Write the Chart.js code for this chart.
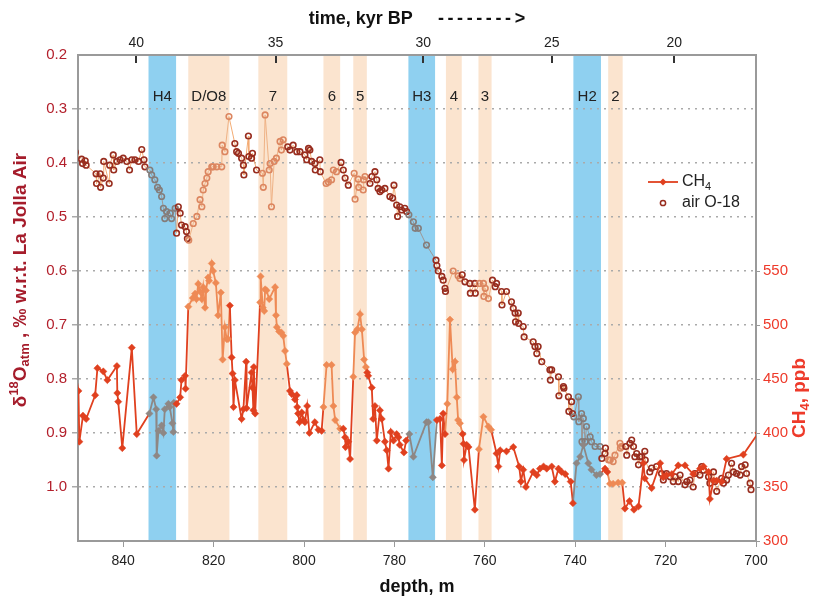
<!DOCTYPE html>
<html>
<head>
<meta charset="utf-8">
<script src="https://cdn.jsdelivr.net/npm/chart.js@4.4.1/dist/chart.umd.min.js"></script>
<style>
  html, body { margin: 0; padding: 0; background: #fff; }
  #wrap { width: 814px; height: 596px; }
</style>
</head>
<body>
<div id="wrap"><canvas id="chart" width="814" height="596"></canvas></div>
<script>
// CH4 samples: [depth m, ppb]
const ch4Samples = [
  [851.5, 480], [849.9, 439], [849.7, 392], [848.9, 416], [848.2, 413], [846.2, 435], [845.7, 460], [844.4, 457],
  [843.5, 449], [841.4, 462], [841.3, 437], [841.1, 429], [840.2, 386], [838.1, 479], [837.0, 399],
  [834.2, 418], [833.3, 433], [832.7, 422], [832.6, 379], [832.2, 402], [831.5, 407], [831.1, 400], [830.8, 422],
  [830.0, 427], [829.7, 424], [829.1, 409], [828.9, 401], [828.8, 428],
  [828.2, 427], [827.4, 433], [827.1, 449], [826.3, 453], [826.2, 441], [825.6, 517],
  [824.6, 525], [824.1, 529], [823.8, 524], [823.4, 538], [823.0, 531], [822.6, 524], [822.3, 535], [821.9, 516],
  [821.7, 532], [821.2, 544], [821.0, 541], [820.4, 557], [820.1, 550], [819.5, 539], [819.0, 509], [818.4, 530],
  [818.0, 468], [817.5, 498], [817.1, 487], [816.8, 487], [816.4, 518],
  [816.0, 470], [815.8, 455], [815.6, 424], [815.3, 449], [813.8, 413], [813.4, 422], [812.8, 466], [812.7, 423],
  [811.6, 456], [811.4, 442], [811.2, 421], [811.1, 461], [810.8, 418],
  [809.7, 521], [809.6, 545], [809.1, 516], [808.8, 513], [808.6, 533], [808.3, 532], [807.7, 524], [806.4, 535],
  [806.2, 509], [806.0, 498], [805.5, 494], [805.0, 493], [804.6, 490], [804.2, 476], [803.8, 464],
  [803.1, 439], [802.7, 436], [802.0, 431], [801.6, 435], [801.5, 424], [801.3, 418], [801.0, 410], [800.5, 419],
  [800.1, 412], [799.8, 410], [799.3, 425], [798.8, 400], [797.6, 410], [796.8, 403], [796.1, 402],
  [795.7, 424], [795.0, 463], [793.9, 463], [793.5, 425], [793.1, 412],
  [792.0, 404], [791.3, 404], [790.9, 396], [790.8, 387], [790.2, 392], [789.8, 376],
  [789.1, 452], [788.7, 493], [788.2, 496], [787.6, 510], [787.2, 496], [786.7, 468], [786.3, 461],
  [786.0, 456], [785.8, 453], [785.0, 442], [784.7, 413], [784.3, 425], [783.9, 393], [783.2, 421], [782.8, 413],
  [782.1, 392], [781.7, 384], [781.3, 367], [780.8, 401], [780.2, 393], [779.5, 399], [779.1, 396], [778.8, 389],
  [777.9, 382], [777.4, 393],
  [776.7, 399], [775.8, 378], [772.9, 410], [772.5, 410], [771.5, 359],
  [770.6, 412], [769.9, 413], [769.5, 370], [769.2, 418], [768.8, 399],
  [768.3, 427], [767.7, 505], [767.1, 459], [766.6, 466], [766.2, 433], [765.9, 412], [765.5, 409],
  [764.9, 399], [764.7, 390], [764.6, 375], [764.0, 389], [763.6, 387], [762.2, 329],
  [761.3, 385], [760.3, 415], [759.2, 406], [758.6, 403],
  [757.4, 381], [757.0, 369], [756.6, 384], [755.2, 383], [753.7, 387], [752.4, 369], [752.0, 355], [751.5, 366],
  [750.9, 350], [749.3, 364], [748.5, 361], [747.8, 367], [747.0, 369], [746.3, 367], [745.2, 369], [744.5, 355],
  [743.7, 367], [743.0, 364], [742.2, 362], [741.0, 355], [740.5, 335],
  [739.7, 372], [738.9, 378], [738.2, 389], [737.1, 372], [736.4, 366], [735.3, 361], [734.5, 362],
  [733.4, 367], [732.9, 364],
  [732.3, 353], [731.6, 353], [730.5, 354], [729.6, 354],
  [729.0, 330], [728.0, 337], [727.0, 329], [726.0, 332], [724.9, 372], [724.6, 358], [723.1, 349], [721.2, 372],
  [720.5, 359], [719.8, 361], [718.6, 362], [717.2, 370], [715.7, 370], [713.9, 362], [712.4, 367], [711.6, 369],
  [710.5, 364], [710.2, 339], [709.4, 356], [708.7, 356], [707.6, 355], [706.5, 376], [702.8, 380], [699.5, 400]
];

// air O-18 samples: [depth m, permil]
const o18Samples = [
  [850.6, 0.380], [849.2, 0.393], [849.0, 0.401], [848.4, 0.396], [848.2, 0.404], [846.0, 0.420], [845.9, 0.438],
  [845.1, 0.420], [845.0, 0.445], [844.4, 0.428], [844.3, 0.397], [843.1, 0.438], [843.0, 0.404], [842.2, 0.385],
  [842.1, 0.413], [841.4, 0.397], [840.7, 0.394], [840.0, 0.391], [839.2, 0.397], [838.6, 0.413], [838.1, 0.394],
  [837.4, 0.394], [836.6, 0.397], [835.9, 0.375], [835.4, 0.394], [835.2, 0.407],
  [834.1, 0.413], [833.7, 0.422], [833.0, 0.431], [832.4, 0.445], [832.0, 0.450], [831.5, 0.462], [831.1, 0.484],
  [830.8, 0.503], [830.4, 0.490], [829.6, 0.493], [829.3, 0.503], [828.5, 0.484],
  [828.2, 0.530], [827.8, 0.481], [827.4, 0.493], [827.1, 0.515], [826.3, 0.518], [826.0, 0.527], [825.8, 0.540],
  [825.5, 0.543], [824.5, 0.512], [823.7, 0.499], [823.0, 0.468], [822.6, 0.481], [822.3, 0.450], [821.9, 0.438],
  [821.5, 0.428], [821.2, 0.416], [820.4, 0.407], [820.1, 0.407], [819.3, 0.407], [818.2, 0.407], [818.1, 0.367],
  [817.5, 0.379], [816.6, 0.314],
  [815.3, 0.364], [814.9, 0.379], [814.5, 0.382], [813.8, 0.391], [813.4, 0.404], [813.3, 0.422], [812.3, 0.350],
  [812.2, 0.388], [811.6, 0.391], [811.4, 0.382], [810.5, 0.413],
  [809.2, 0.419], [809.0, 0.445], [808.6, 0.311], [807.7, 0.413], [807.5, 0.401], [807.2, 0.481], [806.6, 0.397],
  [806.1, 0.391], [805.3, 0.360], [805.0, 0.376], [804.6, 0.357],
  [803.6, 0.370], [803.1, 0.376], [802.4, 0.367], [801.6, 0.379], [800.9, 0.379], [799.8, 0.385], [799.4, 0.394],
  [799.0, 0.373], [798.7, 0.376], [798.3, 0.397], [797.6, 0.401], [797.5, 0.413], [796.5, 0.394], [796.4, 0.416],
  [795.1, 0.438], [794.6, 0.435], [793.9, 0.431], [793.5, 0.413], [792.8, 0.416],
  [791.8, 0.399], [791.3, 0.413], [790.9, 0.428], [790.2, 0.441],
  [788.9, 0.419], [788.7, 0.467], [788.0, 0.430], [787.9, 0.445], [786.9, 0.450], [786.8, 0.431], [786.5, 0.425],
  [785.4, 0.438], [785.0, 0.425], [784.3, 0.416], [783.9, 0.431], [783.6, 0.447], [783.2, 0.453], [782.8, 0.450],
  [782.1, 0.447], [781.0, 0.462], [780.4, 0.465], [780.1, 0.441], [779.5, 0.478], [779.3, 0.499], [778.8, 0.481],
  [778.4, 0.487], [777.7, 0.484], [777.3, 0.490],
  [776.8, 0.496], [775.8, 0.509], [775.4, 0.521], [774.7, 0.521], [772.9, 0.552],
  [770.8, 0.580], [770.6, 0.590], [770.3, 0.600], [769.5, 0.610], [769.2, 0.617], [768.8, 0.632], [768.7, 0.638],
  [767.0, 0.600], [765.9, 0.609], [765.5, 0.614],
  [765.0, 0.607], [764.4, 0.620], [763.3, 0.623], [763.2, 0.641], [762.2, 0.623], [762.1, 0.641],
  [761.2, 0.623], [760.3, 0.623], [760.2, 0.647], [759.9, 0.632], [759.2, 0.651],
  [758.3, 0.617], [757.7, 0.629], [757.4, 0.623], [756.3, 0.638], [756.2, 0.663], [755.2, 0.638], [754.1, 0.657],
  [753.7, 0.669], [753.3, 0.678], [753.2, 0.694], [752.6, 0.678], [752.5, 0.697], [751.5, 0.703], [751.3, 0.722],
  [749.3, 0.731], [748.9, 0.740], [748.5, 0.753], [748.2, 0.740], [747.4, 0.768], [745.6, 0.783], [745.5, 0.802],
  [745.2, 0.783], [743.7, 0.796], [743.6, 0.831], [742.6, 0.814], [742.5, 0.817], [741.5, 0.833], [741.4, 0.860],
  [740.8, 0.842], [740.6, 0.864],
  [740.3, 0.870], [739.3, 0.833], [739.2, 0.879], [738.6, 0.864], [738.5, 0.916], [738.2, 0.873], [737.8, 0.916],
  [737.5, 0.888], [736.7, 0.907], [736.4, 0.916], [735.6, 0.925], [734.5, 0.925],
  [734.1, 0.947], [733.4, 0.938], [733.3, 0.928], [732.6, 0.950], [732.3, 0.950], [731.6, 0.953], [731.2, 0.941],
  [730.1, 0.919], [730.0, 0.928], [729.7, 0.925],
  [728.8, 0.925], [728.6, 0.941], [727.9, 0.919], [727.5, 0.913], [727.1, 0.925], [726.8, 0.944], [726.4, 0.938],
  [726.0, 0.959], [725.7, 0.944], [725.3, 0.944], [724.6, 0.934], [724.5, 0.950], [723.5, 0.972], [723.1, 0.965],
  [722.0, 0.962], [720.9, 0.975], [720.5, 0.987], [719.8, 0.975], [719.0, 0.981], [718.3, 0.990], [717.9, 0.981],
  [717.2, 0.990], [716.8, 0.978], [715.7, 0.996], [715.3, 0.990], [714.6, 0.987], [713.9, 1.000], [713.5, 0.975],
  [712.4, 0.978], [712.0, 0.962], [711.6, 0.969], [710.5, 0.981], [710.2, 0.993], [709.4, 0.972], [709.1, 0.990],
  [708.7, 1.008], [707.6, 0.984], [707.2, 0.993], [706.5, 0.987], [706.1, 0.978], [705.4, 0.956], [705.0, 0.972],
  [704.3, 0.975], [703.5, 0.978], [703.2, 0.962], [702.4, 0.959], [702.1, 0.975], [701.3, 0.993], [701.1, 1.005]
];

// climate events (depth range, m)
const eventTop = [834.4, 825.6, 810.1, 795.7, 789.1, 776.9, 768.6, 761.4, 740.4, 732.7];
const eventBottom = [828.3, 816.5, 803.7, 792.0, 786.1, 771.0, 765.1, 758.5, 734.3, 729.5];
const eventNames = ['H4', 'D/O8', '7', '6', '5', 'H3', '4', '3', 'H2', '2'];
const eventKind = ['H', 'DO', 'DO', 'DO', 'DO', 'H', 'DO', 'DO', 'H', 'DO'];

// axis ticks
const depthTicks = [840, 820, 800, 780, 760, 740, 720, 700];
const ageTickDepths = [837.1, 806.3, 773.6, 745.2, 718.1];
const ageTickLabels = ['40', '35', '30', '25', '20'];
const o18Ticks = [0.2, 0.3, 0.4, 0.5, 0.6, 0.7, 0.8, 0.9, 1.0];
const ch4Ticks = [300, 350, 400, 450, 500, 550];

// kleuren
const BLUE_BAND = '#8fd0f0';
const ORANGE_BAND = '#fbe4cf';
const CH4_RED = '#e0401f';
const CH4_ORANGE = '#ee8a55';
const CH4_GRAY = '#8e8784';
const O18_BROWN = '#982d1f';
const O18_ORANGE = '#dc8660';
const O18_GRAY = '#847c7a';
const LEFT_RED = '#b3202c';
const RIGHT_RED = '#ee3a2a';

function eventAt(depth) {
    for (let i = 0; i < eventTop.length; i++) {
        if (depth <= eventTop[i] && depth >= eventBottom[i]) return eventKind[i];
    }
    return null;
}

function pick(depth, normal, orange, gray) {
    const k = eventAt(depth);
    if (k === 'H') return gray;
    if (k === 'DO') return orange;
    return normal;
}

function pointColor(ctx, normal, orange, gray) {
    if (!ctx.raw) return normal;
    return pick(ctx.raw.x, normal, orange, gray);
}

// tekent banden, labels, tijd-ticks, legenda en y-titels
const overlay = {
    id: 'overlay',
    beforeDraw(chart) {
        const { ctx, chartArea: a, scales: { x } } = chart;
        ctx.save();
        eventTop.forEach((top, i) => {
            const x1 = x.getPixelForValue(top);
            const x2 = x.getPixelForValue(eventBottom[i]);
            ctx.fillStyle = eventKind[i] === 'H' ? BLUE_BAND : ORANGE_BAND;
            ctx.fillRect(Math.min(x1, x2), a.top, Math.abs(x2 - x1), a.bottom - a.top);
        });
        ctx.restore();
    },
    afterDraw(chart) {
        const { ctx, chartArea: a, scales: { x, x2 } } = chart;
        ctx.save();

        // namen van de events
        ctx.font = '15px "Liberation Sans", Arial, sans-serif';
        ctx.fillStyle = '#222';
        ctx.textAlign = 'center';
        ctx.textBaseline = 'middle';
        eventNames.forEach((name, i) => {
            const cx = x.getPixelForValue((eventTop[i] + eventBottom[i]) / 2);
            ctx.fillText(name, cx, a.top + 42);
        });

        // korte tickjes van de tijd-as
        ctx.strokeStyle = '#333';
        ctx.lineWidth = 2;
        ageTickDepths.forEach(d => {
            const px = Math.round(x2.getPixelForValue(d));
            ctx.beginPath();
            ctx.moveTo(px, a.top + 1);
            ctx.lineTo(px, a.top + 8);
            ctx.stroke();
        });

        // legenda
        const lx = 663, ly1 = 182, ly2 = 203;
        ctx.strokeStyle = CH4_RED;
        ctx.lineWidth = 1.8;
        ctx.beginPath();
        ctx.moveTo(lx - 15, ly1);
        ctx.lineTo(lx + 15, ly1);
        ctx.stroke();
        ctx.fillStyle = CH4_RED;
        ctx.beginPath();
        ctx.moveTo(lx, ly1 - 3.5);
        ctx.lineTo(lx + 3.5, ly1);
        ctx.lineTo(lx, ly1 + 3.5);
        ctx.lineTo(lx - 3.5, ly1);
        ctx.closePath();
        ctx.fill();
        ctx.strokeStyle = O18_BROWN;
        ctx.lineWidth = 1.5;
        ctx.beginPath();
        ctx.arc(lx, ly2, 2.6, 0, Math.PI * 2);
        ctx.stroke();
        drawRich(ctx, lx + 19, ly1, [['CH', 16, 0], ['4', 11, 5]], '', '#222');
        drawRich(ctx, lx + 19, ly2, [['air O-18', 16, 0]], '', '#222');

        // linker titel (gedraaid)
        ctx.save();
        ctx.translate(21, 280);
        ctx.rotate(-Math.PI / 2);
        const leftParts = [['δ', 19, 0], ['18', 13, -7], ['O', 19, 0], ['atm', 13, 4], [' , ‰ w.r.t. La Jolla Air', 19, 0]];
        const lw = measureRich(ctx, leftParts, 'bold ');
        drawRich(ctx, -lw / 2, 0, leftParts, 'bold ', '#a51c2b');
        ctx.restore();

        // rechter titel
        ctx.save();
        ctx.translate(800, 398);
        ctx.rotate(-Math.PI / 2);
        const rightParts = [['CH', 19, 0], ['4', 13, 5], [', ppb', 19, 0]];
        const rw = measureRich(ctx, rightParts, 'bold ');
        drawRich(ctx, -rw / 2, 0, rightParts, 'bold ', RIGHT_RED);
        ctx.restore();

        ctx.restore();
    }
};

function measureRich(ctx, parts, weight) {
    let w = 0;
    parts.forEach(([t, size]) => {
        ctx.font = weight + size + 'px "Liberation Sans", Arial, sans-serif';
        w += ctx.measureText(t).width;
    });
    return w;
}

function drawRich(ctx, x0, y0, parts, weight, color) {
    let cx = x0;
    ctx.fillStyle = color;
    ctx.textAlign = 'left';
    ctx.textBaseline = 'middle';
    parts.forEach(([t, size, dy]) => {
        ctx.font = weight + size + 'px "Liberation Sans", Arial, sans-serif';
        ctx.fillText(t, cx, y0 + dy);
        cx += ctx.measureText(t).width;
    });
}

function initializeChart() {
    Chart.defaults.font.family = '"Liberation Sans", Arial, sans-serif';
    Chart.defaults.font.size = 14;

    const ch4Data = ch4Samples.map(([d, v]) => ({ x: d, y: v }));
    const o18Data = o18Samples.map(([d, v]) => ({ x: d, y: v }));

    new Chart(document.getElementById('chart'), {
        type: 'line',
        data: {
            datasets: [
                {
                    label: 'CH4',
                    data: ch4Data,
                    xAxisID: 'x',
                    yAxisID: 'y2',
                    borderColor: CH4_RED,
                    borderWidth: 1.8,
                    segment: {
                        borderColor: ctx => pick((ctx.p0.parsed.x + ctx.p1.parsed.x) / 2, CH4_RED, CH4_ORANGE, CH4_GRAY)
                    },
                    pointStyle: 'rectRot',
                    pointRadius: 3.6,
                    pointBorderWidth: 0.5,
                    pointBackgroundColor: ctx => pointColor(ctx, CH4_RED, CH4_ORANGE, CH4_GRAY),
                    pointBorderColor: ctx => pointColor(ctx, CH4_RED, CH4_ORANGE, CH4_GRAY),
                    tension: 0
                },
                {
                    label: 'air O-18',
                    data: o18Data,
                    xAxisID: 'x',
                    yAxisID: 'y',
                    borderColor: '#f3ac74',
                    borderWidth: 1,
                    segment: {
                        borderColor: ctx => pick((ctx.p0.parsed.x + ctx.p1.parsed.x) / 2, '#f3ac74', '#efb285', '#9d9795')
                    },
                    pointStyle: 'circle',
                    pointRadius: 2.8,
                    pointBorderWidth: 1.6,
                    pointBackgroundColor: 'rgba(255,255,255,0)',
                    pointBorderColor: ctx => pointColor(ctx, O18_BROWN, O18_ORANGE, O18_GRAY),
                    tension: 0
                }
            ]
        },
        options: {
            responsive: false,
            animation: false,
            devicePixelRatio: 1,
            layout: { padding: 0 },
            plugins: {
                legend: { display: false },
                tooltip: { enabled: false }
            },
            scales: {
                x: {
                    type: 'linear',
                    position: 'bottom',
                    min: 700,
                    max: 850,
                    reverse: true,
                    afterBuildTicks: s => { s.ticks = depthTicks.map(v => ({ value: v })); },
                    afterFit: s => { s.height = 55; },
                    grid: { drawOnChartArea: false, tickLength: 6, color: '#999' },
                    border: { color: '#9a9a9a', width: 2 },
                    ticks: { color: '#222', padding: 6, maxRotation: 0 },
                    title: {
                        display: true,
                        text: 'depth, m',
                        color: '#111',
                        font: { size: 18, weight: 'bold', lineHeight: 1 },
                        padding: { top: 0, bottom: 0 }
                    }
                },
                x2: {
                    type: 'linear',
                    position: 'top',
                    min: 700,
                    max: 850,
                    reverse: true,
                    afterBuildTicks: s => { s.ticks = ageTickDepths.map(v => ({ value: v })); },
                    afterFit: s => { s.height = 55; },
                    grid: { drawOnChartArea: false, drawTicks: false },
                    border: { color: '#9a9a9a', width: 2 },
                    ticks: {
                        color: '#222',
                        padding: 3,
                        maxRotation: 0,
                        callback: (v, i) => ageTickLabels[i]
                    },
                    title: {
                        display: true,
                        text: 'time, kyr BP     -\u2009-\u2009-\u2009-\u2009-\u2009-\u2009-\u2009-\u2009>',
                        color: '#111',
                        font: { size: 18, weight: 'bold', lineHeight: 1 },
                        padding: { top: 10, bottom: 0 }
                    }
                },
                y: {
                    type: 'linear',
                    position: 'left',
                    min: 0.2,
                    max: 1.1,
                    reverse: true,
                    afterBuildTicks: s => { s.ticks = o18Ticks.map(v => ({ value: v })); },
                    afterFit: s => { s.width = 78; },
                    grid: {
                        color: ctx => (ctx.tick && ctx.tick.value === 0.2) ? 'rgba(0,0,0,0)' : '#aaaaaa',
                        lineWidth: 1.5,
                        tickLength: 6
                    },
                    border: { color: '#9a9a9a', width: 2, dash: [2, 5] },
                    ticks: {
                        color: LEFT_RED,
                        padding: 5,
                        font: { size: 15 },
                        callback: v => v.toFixed(1)
                    }
                },
                y2: {
                    type: 'linear',
                    position: 'right',
                    min: 300,
                    max: 750,
                    afterBuildTicks: s => { s.ticks = ch4Ticks.map(v => ({ value: v })); },
                    afterFit: s => { s.width = 58; },
                    grid: { drawOnChartArea: false, tickLength: 4, color: '#999' },
                    border: { color: '#9a9a9a', width: 2 },
                    ticks: { color: RIGHT_RED, padding: 3, font: { size: 15 } }
                }
            }
        },
        plugins: [overlay]
    });
}

window.addEventListener('load', () => {
    initializeChart();
});
</script>
</body>
</html>
